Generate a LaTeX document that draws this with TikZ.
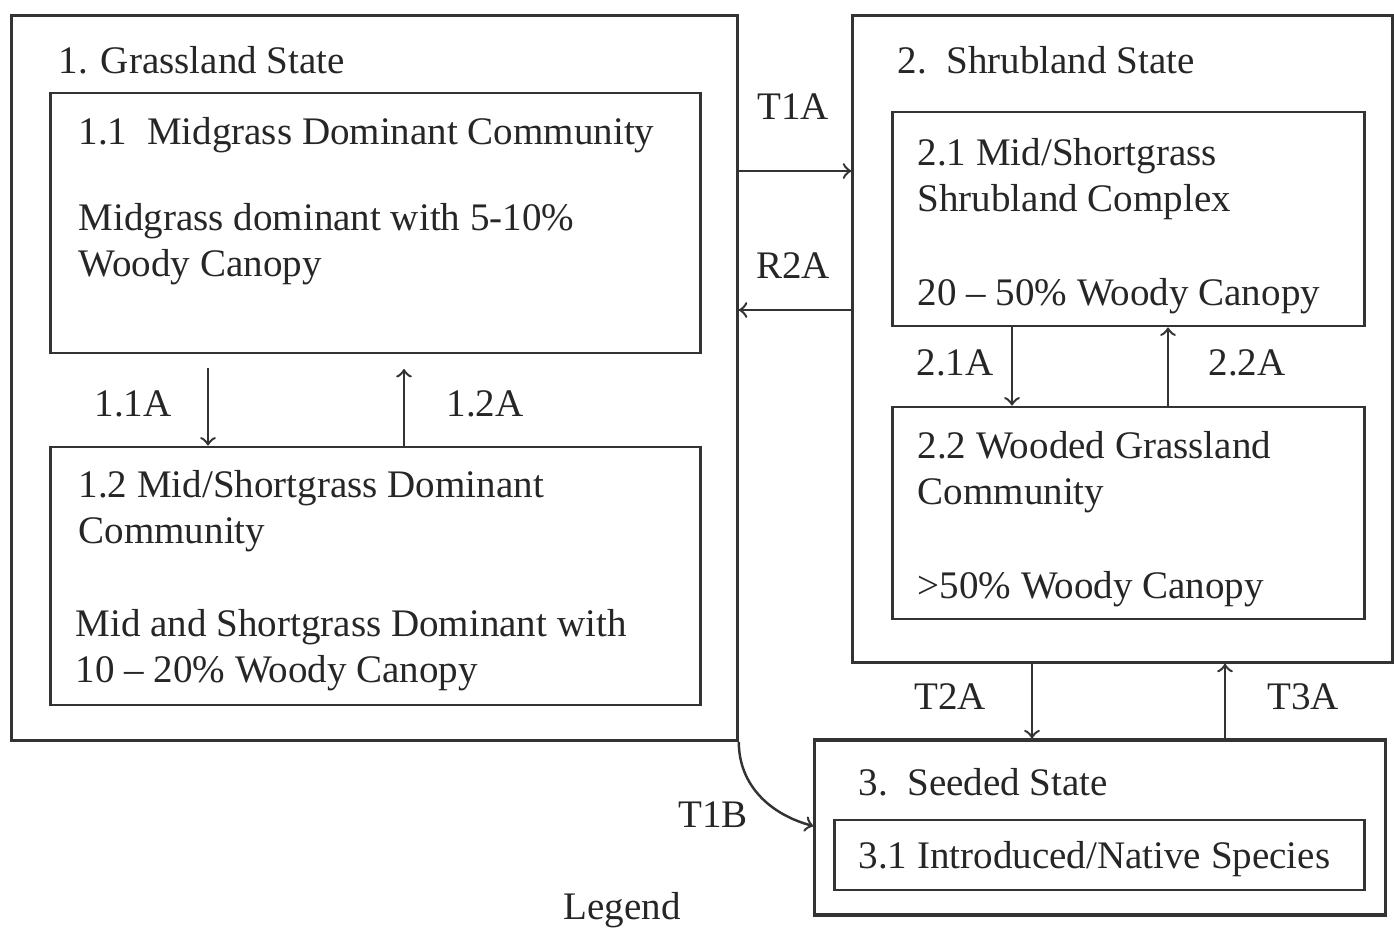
\documentclass[tikz,border=0pt]{standalone}
\usepackage{fontspec}
\setmainfont{Liberation Serif}
\usetikzlibrary{arrows,positioning}

\begin{document}
\begin{tikzpicture}[x=0.01cm,y=-0.01cm,
    font=\fontsize{11.1}{13.1}\selectfont,
    statebox/.style={draw=black!80,line width=0.9pt,inner sep=0pt},
    commbox/.style={draw=black!80,line width=0.8pt,inner sep=0pt},
    txt/.style={anchor=north west,align=left,inner sep=0pt,text=black!85},
    lbl/.style={inner sep=0pt,text=black!85},
    arr/.style={->,>=to,draw=black!80,line width=0.7pt}]
  \useasboundingbox (0,0) rectangle (1394,927);

  % state boxes
  \node[statebox,minimum width=7.25cm,minimum height=7.24cm] (state1) at (374.5,378) {};
  \node[statebox,minimum width=5.39cm,minimum height=6.46cm] (state2) at (1122.5,339) {};
  \node[statebox,minimum width=5.70cm,minimum height=1.75cm] (state3) at (1100,827.5) {};

  % community boxes
  \node[commbox,minimum width=6.49cm,minimum height=2.60cm] (c11) at (375.5,223) {};
  \node[commbox,minimum width=6.49cm,minimum height=2.58cm] (c12) at (375.5,576) {};
  \node[commbox,minimum width=4.71cm,minimum height=2.14cm] (c21) at (1128.5,219) {};
  \node[commbox,minimum width=4.71cm,minimum height=2.12cm] (c22) at (1128.5,513) {};
  \node[commbox,minimum width=5.29cm,minimum height=0.70cm] (c31) at (1099.5,855) {};

  % texts
  \node[txt] (t1) at (58,46) {1. Grassland State};
  \node[txt] (t11) at (78,117) {1.1\ \ Midgrass Dominant Community};
  \node[txt] (t11b) at (78,203) {Midgrass dominant with 5-10\%\\Woody Canopy};
  \node[txt] (t12) at (78,470) {1.2 Mid/Shortgrass Dominant\\Community};
  \node[txt] (t12b) at (75,609) {Mid and Shortgrass Dominant with\\10 -- 20\% Woody Canopy};
  \node[txt] (t2) at (897,46) {2.\ \ Shrubland State};
  \node[txt] (t21) at (917,138) {2.1 Mid/Shortgrass\\Shrubland Complex};
  \node[txt] (t21b) at (917,278) {20 -- 50\% Woody Canopy};
  \node[txt] (t22) at (917,431) {2.2 Wooded Grassland\\Community};
  \node[txt] (t22b) at (917,571) {>50\% Woody Canopy};
  \node[txt] (t3) at (858,768) {3.\ \ Seeded State};
  \node[txt] (t31) at (858,841) {3.1 Introduced/Native Species};
  \node[lbl] (legend) at (622,910) {Legend};

  % transition labels
  \node[lbl] (lT1A) at (793,107) {T1A};
  \node[lbl] (lR2A) at (793,266) {R2A};
  \node[lbl] (l11A) at (133,404) {1.1A};
  \node[lbl] (l12A) at (485,404) {1.2A};
  \node[lbl] (l21A) at (955,363) {2.1A};
  \node[lbl] (l22A) at (1247,363) {2.2A};
  \node[lbl] (lT2A) at (950,697) {T2A};
  \node[lbl] (lT3A) at (1303,697) {T3A};
  \node[lbl] (lT1B) at (713,815) {T1B};

  % transitions
  \draw[arr] (state1.east |- 0,171) -- (state2.west |- 0,171);
  \draw[arr] (state2.west |- 0,310) -- (state1.east |- 0,310);
  \draw[arr] (208,368) -- (c12.north -| 208,0);
  \draw[arr] (c12.north -| 404,0) -- (404,369);
  \draw[arr] (c21.south -| 1012,0) -- (c22.north -| 1012,0);
  \draw[arr] (c22.north -| 1168,0) -- (c21.south -| 1168,0);
  \draw[arr] (state2.south -| 1032,0) -- (state3.north -| 1032,0);
  \draw[arr] (state3.north -| 1225,0) -- (state2.south -| 1225,0);
  \draw[arr] (state1.south east) to[out=-90,in=165] (state3.west |- 0,826);
\end{tikzpicture}
\end{document}
